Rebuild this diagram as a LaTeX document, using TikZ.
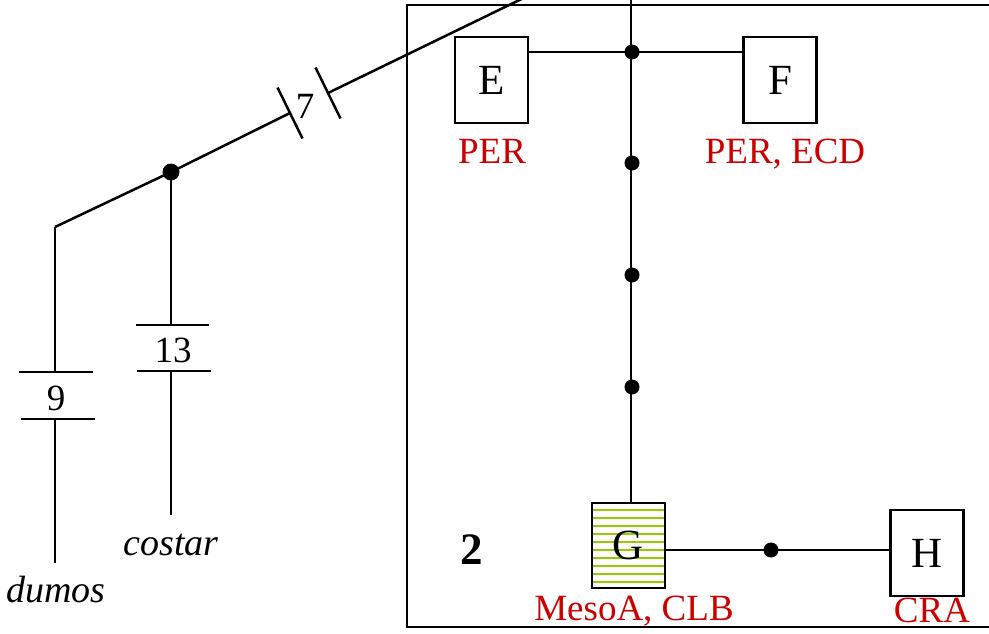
\documentclass[tikz,border=0pt]{standalone}
\usepackage{fontspec}
\setmainfont{Liberation Serif}
\usetikzlibrary{calc}
\definecolor{labelred}{RGB}{204,0,0}
\definecolor{stripegreen}{RGB}{153,204,0}
\begin{document}
\begin{tikzpicture}[x=1pt,y=-1pt,line width=2.5pt,
  every node/.style={inner sep=0pt},
  taxon/.style={draw,rectangle,fill=white,minimum width=73pt,minimum height=86pt,
    font=\fontsize{43}{46}\selectfont},
  dot/.style={circle,fill=black,minimum size=15pt},
  bigdot/.style={circle,fill=black,minimum size=17pt},
  redlabel/.style={anchor=base,text=labelred,font=\fontsize{37}{40}\selectfont},
  numlabel/.style={anchor=base,font=\fontsize{37}{40}\selectfont},
  leaflabel/.style={anchor=base,font=\fontsize{38}{40}\selectfont\itshape},
  striped/.style={path picture={
    \foreach \k in {0,...,9}{
      \pgfmathsetmacro\stripepos{0.082+0.0941*\k}
      \draw[stripegreen,line width=2.6pt]
        ($(path picture bounding box.north west)!\stripepos!(path picture bounding box.south west)$) --
        ($(path picture bounding box.north east)!\stripepos!(path picture bounding box.south east)$);
    }}}]
\useasboundingbox (0,0) rectangle (989,634);
\clip (0,0) rectangle (989,634);

% frame of group 2
\draw (407,5) rectangle (1000,627);
\node[anchor=base,font=\fontsize{45}{48}\selectfont\bfseries] (grp) at (472,564) {2};

% taxa boxes
\node[taxon] (E) at (491.5,80) {E};
\node[taxon] (F) at (780,80) {F};
\node[taxon,striped,minimum height=85pt] (G) at (628.5,545.5) {G};
\node[taxon] (H) at (927,553) {H};

\node[redlabel] (lE) at (492,163) {PER};
\node[redlabel] (lF) at (785,163) {PER, ECD};
\node[redlabel] (lG) at (634,620) {MesoA, CLB};
\node[redlabel] (lH) at (932,622) {CRA};

% main vertical stem with its nodes
\coordinate (vtop) at (631,-5);
\node[dot] (d1) at (632,52) {};
\node[dot] (d2) at (632,163) {};
\node[dot] (d3) at (632,275) {};
\node[dot] (d4) at (632,387) {};
\draw (vtop) -- (vtop |- G.north);
\draw (E.east |- d1) -- (F.west |- d1);

\node[dot] (d5) at (771,550) {};
\draw (G.east |- d5) -- (H.west |- d5);

% outer branch with the cut labelled 7
\coordinate (a) at (55,227);
\node[bigdot] (b) at (171,172) {};
\coordinate (t1) at (290,113);
\coordinate (t2) at (328,93);
\coordinate (up) at (538,-9);
\draw (a) -- (b.center) -- (t1);
\draw (t2) -- (up);
\draw ($(t1)+(-12.5,-25.5)$) -- ($(t1)+(12.5,25.5)$);
\draw ($(t2)+(-12.5,-25.5)$) -- ($(t2)+(12.5,25.5)$);
\node[numlabel] (n7) at (305,118) {7};

% costar branch with the cut labelled 13
\node[numlabel] (n13) at (173,362) {13};
\coordinate (c1) at (171,325);
\coordinate (c2) at (171,371);
\coordinate (c3) at (171,515);
\draw (b.center) -- (c1);
\draw (136,325) -- (209,325);
\draw (137,371) -- (211,371);
\draw (c2) -- (c3);
\node[leaflabel] (costar) at (171,555) {costar};

% dumos branch with the cut labelled 9
\node[numlabel] (n9) at (56,410) {9};
\coordinate (e1) at (55,372);
\coordinate (e2) at (55,419);
\coordinate (e3) at (55,563);
\draw (a) -- (e1);
\draw (19,372) -- (93,372);
\draw (21,419) -- (95,419);
\draw (e2) -- (e3);
\node[leaflabel] (dumos) at (56,602) {dumos};
\end{tikzpicture}
\end{document}
